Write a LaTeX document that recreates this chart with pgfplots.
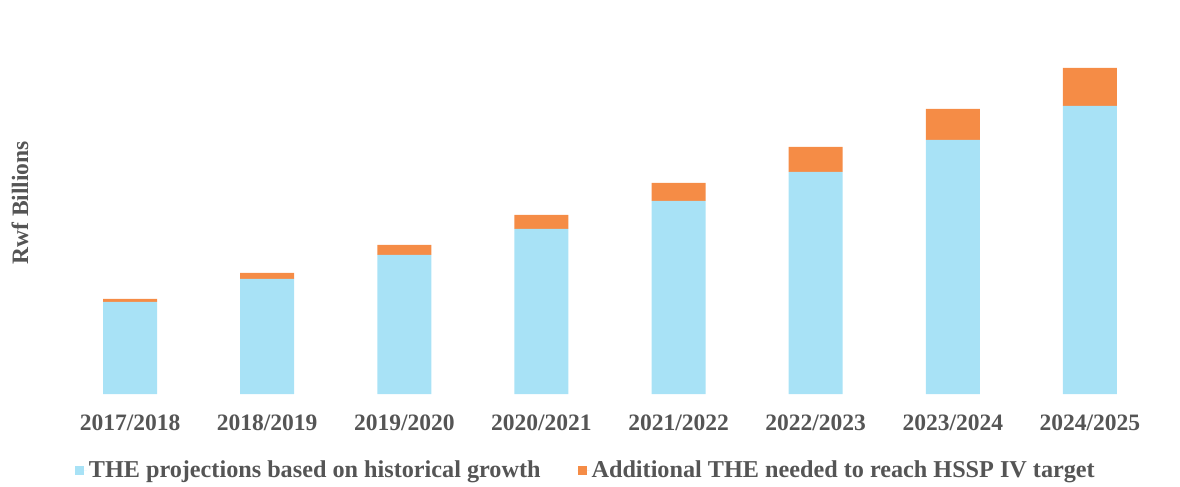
\documentclass[border=0pt]{standalone}
\usepackage{pgfplots}
\pgfplotsset{compat=1.18}
\usepackage{fontspec}
\setmainfont{Liberation Serif}
\definecolor{barblue}{RGB}{168,226,246}
\definecolor{barorange}{RGB}{245,140,70}
\definecolor{txtgray}{RGB}{85,85,85}
\begin{document}
\begin{tikzpicture}
\path[use as bounding box] (-61.5bp,-93bp) rectangle (1118.5bp,394bp);
\begin{axis}[
  scale only axis,
  width=1097bp, height=394bp,
  xmin=-0.5, xmax=7.5, ymin=0, ymax=394,
  ybar stacked, bar width=54bp,
  axis line style={draw=none},
  major tick length=0pt,
  ytick=\empty,
  xtick=data,
  xticklabels={2017/2018,2018/2019,2019/2020,2020/2021,2021/2022,2022/2023,2023/2024,2024/2025},
  xticklabel style={font=\fontsize{23.6}{28}\selectfont\bfseries, text=txtgray, yshift=-17bp},
  ylabel={Rwf Billions},
  every axis y label/.style={at={(axis description cs:-0.0378,0.485)}, rotate=90, anchor=center, font=\fontsize{23.6}{28}\selectfont\bfseries, text=txtgray},
  clip=false,
  legend columns=2,
  legend style={at={(axis description cs:0.478,-0.193)}, anchor=center, draw=none, fill=none,
    font=\fontsize{24.3}{28}\selectfont\bfseries, text=txtgray,
    /tikz/every even column/.append style={column sep=35bp}},
  legend image code/.code={\fill[#1] (0bp,-5bp) rectangle (9bp,4bp); \path (0bp,0bp) -- (12bp,0bp);},
]
\addplot[fill=barblue, draw=none] coordinates {(0,92) (1,115) (2,139) (3,165) (4,193) (5,222) (6,254) (7,288)};
\addplot[fill=barorange, draw=none] coordinates {(0,3) (1,6) (2,10) (3,14) (4,18) (5,25) (6,31) (7,38)};
\legend{THE projections based on historical growth, Additional THE needed to reach HSSP IV target}
\end{axis}
\end{tikzpicture}
\end{document}
